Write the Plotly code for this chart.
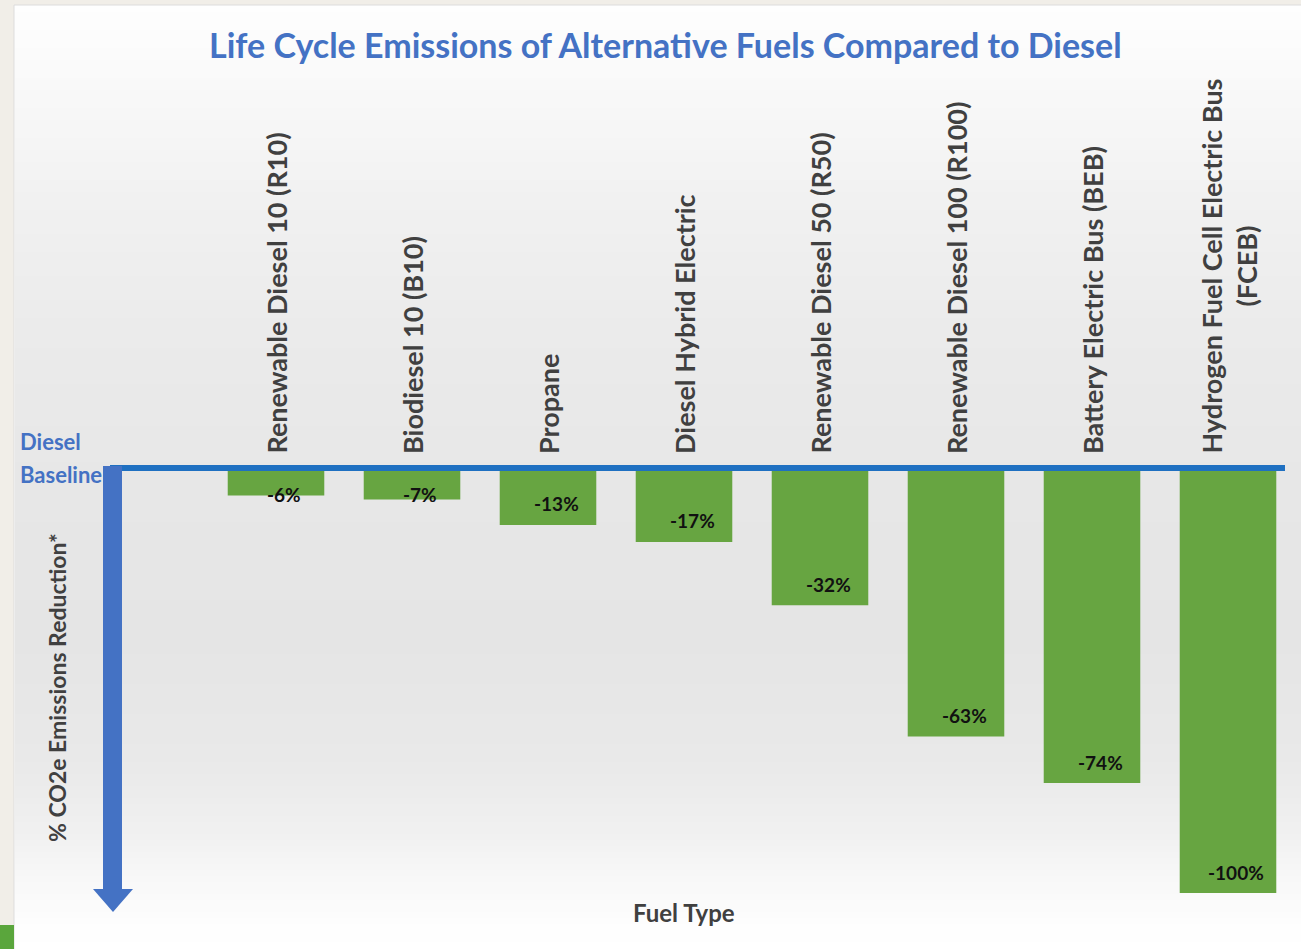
import plotly.graph_objects as go

# ---- data ----
categories = [
    "Renewable Diesel 10 (R10)",
    "Biodiesel 10 (B10)",
    "Propane",
    "Diesel Hybrid Electric",
    "Renewable Diesel 50 (R50)",
    "Renewable Diesel 100 (R100)",
    "Battery Electric Bus (BEB)",
    "Hydrogen Fuel Cell Electric Bus<br>(FCEB)",
]
reduction_pct = [-6, -7, -13, -17, -32, -63, -74, -100]
bar_text = [f"{v}%" for v in reduction_pct]

W, H = 1301, 949
PL, PR, PT, PB = 208, 1296, 470, 893  # plot area in pixels
Y_MIN, Y_MAX = -100, 0


def px(x):
    return (x - PL) / (PR - PL)


def py(y):
    return (PB - y) / (PB - PT)


FONT = "Lato"
fig = go.Figure()
fig.add_trace(go.Bar(
    x=list(range(len(categories))),
    y=reduction_pct,
    marker=dict(color="#67a541", line=dict(width=0)),
    hoverinfo="skip",
))

shapes = []
# slide background
shapes.append(dict(type="rect", xref="paper", yref="paper", layer="below",
                   x0=px(14), x1=px(W + 2), y0=py(H + 2), y1=py(5),
                   fillcolor="#ffffff", line=dict(color="#dcdcdc", width=1)))


# smooth vertical gradient (decorative background)
stops = [(6, 254), (100, 248), (200, 241), (330, 235), (480, 231),
         (640, 229), (760, 233), (830, 240), (880, 248), (930, 254), (948, 255)]


def grey_at(y):
    for (ya, ga), (yb, gb) in zip(stops[:-1], stops[1:]):
        if ya <= y <= yb:
            return ga + (gb - ga) * (y - ya) / (yb - ya)
    return 255


y = 6
step = 6
while y < 948:
    g = int(round(grey_at(y + step / 2)))
    shapes.append(dict(type="rect", xref="paper", yref="paper", layer="below",
                       x0=px(15), x1=px(W + 2), y0=py(min(y + step, 948)), y1=py(y),
                       fillcolor=f"rgb({g},{g},{g})", line=dict(width=0)))
    y += step

# green corner piece
shapes.append(dict(type="rect", xref="paper", yref="paper", layer="below",
                   x0=px(0), x1=px(14), y0=py(H + 2), y1=py(925),
                   fillcolor="#5aa63c", line=dict(width=0)))
# baseline line
shapes.append(dict(type="line", xref="paper", yref="paper", layer="above",
                   x0=px(110), x1=px(1285), y0=py(468), y1=py(468),
                   line=dict(color="#1f70c1", width=6)))
# vertical arrow shaft
shapes.append(dict(type="rect", xref="paper", yref="paper", layer="above",
                   x0=px(103), x1=px(122), y0=py(890), y1=py(466),
                   fillcolor="#4472c4", line=dict(width=0)))
# arrow head
x_a, x_b, x_c = px(93), px(133), px(113)
y_a, y_c = py(889), py(912)
shapes.append(dict(type="path", xref="paper", yref="paper", layer="above",
                   path=f"M {x_a} {y_a} L {x_b} {y_a} L {x_c} {y_c} Z",
                   fillcolor="#4472c4", line=dict(width=0)))

annotations = []
# category labels (rotated, above the baseline)
for i, c in enumerate(categories):
    annotations.append(dict(
        x=i, y=1, xref="x", yref="paper", yshift=14,
        text=c, textangle=-90, showarrow=False,
        xanchor="center", yanchor="bottom", align="center",
        font=dict(family=FONT, size=27, color="#404040", weight="bold"),
    ))
# value labels inside bar ends
px_per_unit = (PB - PT) / (Y_MAX - Y_MIN)
for i, (v, t) in enumerate(zip(reduction_pct, bar_text)):
    bottom_px = PT + (Y_MAX - v) * px_per_unit
    shift = min(21, bottom_px - 494)
    annotations.append(dict(
        x=i, y=v, xref="x", yref="y", text=t, showarrow=False,
        xanchor="center", yanchor="middle", xshift=8, yshift=shift,
        font=dict(family=FONT, size=19, color="#111111", weight="bold"),
    ))
annotations.append(dict(
    x=px(18), y=py(441), xref="paper", yref="paper", text="Diesel",
    showarrow=False, xanchor="left", yanchor="middle",
    font=dict(family=FONT, size=22, color="#4472c4", weight="bold")))
annotations.append(dict(
    x=px(18), y=py(474), xref="paper", yref="paper", text="Baseline",
    showarrow=False, xanchor="left", yanchor="middle",
    font=dict(family=FONT, size=22, color="#4472c4", weight="bold")))
annotations.append(dict(
    x=px(57), y=py(688), xref="paper", yref="paper",
    text="% CO2e Emissions Reduction*", textangle=-90,
    showarrow=False, xanchor="center", yanchor="middle",
    font=dict(family=FONT, size=23, color="#404040", weight="bold")))
annotations.append(dict(
    x=px(684), y=py(912), xref="paper", yref="paper", text="Fuel Type",
    showarrow=False, xanchor="center", yanchor="middle",
    font=dict(family=FONT, size=24, color="#404040", weight="bold")))
annotations.append(dict(
    x=px(665), y=py(44), xref="paper", yref="paper",
    text="Life Cycle Emissions of Alternative Fuels Compared to Diesel",
    showarrow=False, xanchor="center", yanchor="middle",
    font=dict(family=FONT, size=34, color="#4472c4", weight="bold")))

fig.update_layout(
    width=W, height=H,
    margin=dict(l=PL, r=W - PR, t=PT, b=H - PB, pad=0),
    paper_bgcolor="#f1eee8",
    plot_bgcolor="rgba(0,0,0,0)",
    showlegend=False,
    bargap=0.29,
    shapes=shapes,
    annotations=annotations,
    xaxis=dict(range=[-0.5, len(categories) - 0.5], showticklabels=False,
               showgrid=False, zeroline=False, showline=False, ticks=""),
    yaxis=dict(range=[Y_MIN, Y_MAX], showticklabels=False, showgrid=False,
               zeroline=False, showline=False, ticks=""),
)

fig.write_html(
    "out.html",
    config={"displayModeBar": False},
    post_script="document.body.style.margin='0px';document.body.style.overflow='hidden';",
)
